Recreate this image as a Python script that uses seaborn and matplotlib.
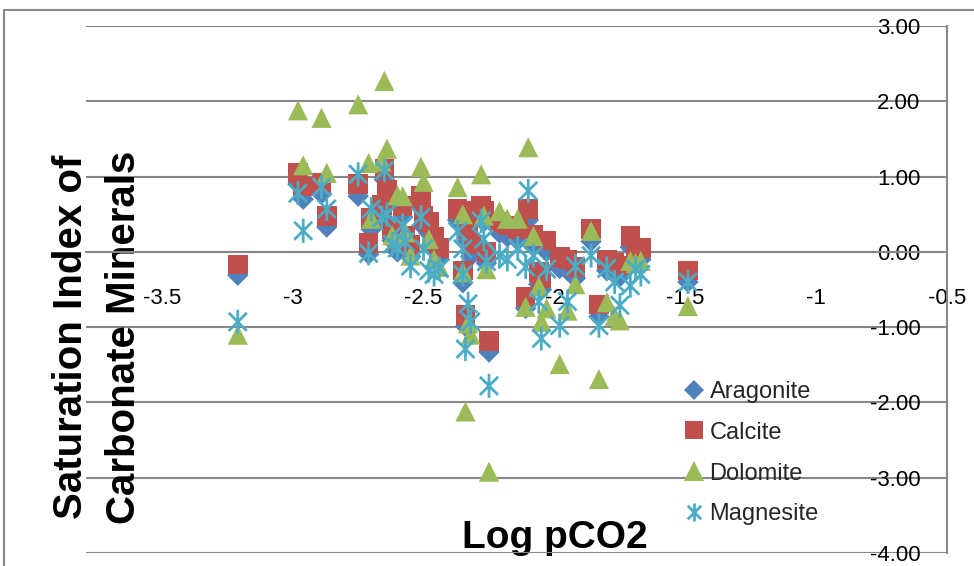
import pandas as pd
import matplotlib
matplotlib.use('Agg')
from matplotlib import pyplot as plt
from matplotlib.path import Path
from matplotlib.lines import Line2D
from matplotlib.patches import Rectangle
import seaborn as sns

sns.set_theme(style='white')
plt.rcParams['font.family'] = ['Liberation Sans', 'DejaVu Sans']

# values
log_pco2 = [-3.21, -2.98, -2.96, -2.89, -2.87, -2.75, -2.70, -2.71, -2.65, -2.64,
            -2.66, -2.62, -2.60, -2.58, -2.57, -2.55, -2.51, -2.50, -2.48, -2.46,
            -2.44, -2.37, -2.35, -2.35, -2.34, -2.33, -2.32, -2.28, -2.27, -2.25,
            -2.26, -2.21, -2.18, -2.14, -2.11, -2.10, -2.08, -2.06, -2.05, -2.03,
            -1.98, -1.95, -1.92, -1.86, -1.83, -1.80, -1.77, -1.75, -1.71, -1.69,
            -1.67, -1.49]
si_aragonite = [-0.31, 0.90, 0.70, 0.77, 0.33, 0.74, 0.30, -0.03, 0.96, 0.66,
                0.47, 0.15, 0.00, 0.46, 0.06, -0.06, 0.59, 0.33, 0.25, 0.05,
                -0.10, 0.42, 0.40, -0.41, -0.99, 0.14, -0.06, 0.46, 0.40, -1.33,
                -0.15, 0.25, 0.20, 0.15, -0.75, 0.42, 0.07, -0.43, -0.50, 0.00,
                -0.22, -0.25, -0.35, 0.14, -0.86, -0.25, -0.30, -0.33, 0.06, -0.10,
                -0.10, -0.40]
si_calcite = [-0.17, 1.05, 0.87, 0.92, 0.48, 0.90, 0.45, 0.12, 1.10, 0.82,
              0.62, 0.30, 0.15, 0.61, 0.21, 0.09, 0.74, 0.48, 0.40, 0.20,
              0.05, 0.57, 0.55, -0.25, -0.84, 0.30, 0.10, 0.61, 0.55, -1.18,
              0.00, 0.40, 0.35, 0.30, -0.60, 0.57, 0.22, -0.27, -0.35, 0.15,
              -0.07, -0.10, -0.20, 0.30, -0.70, -0.10, -0.15, -0.18, 0.21, 0.05,
              0.05, -0.25]
si_dolomite = [-1.10, 1.88, 1.15, 1.78, 1.05, 1.96, 0.44, 1.18, 2.27, 1.37,
               1.20, 0.22, 0.75, 0.74, 0.26, -0.05, 1.13, 0.93, 0.17, -0.10,
               -0.20, 0.86, 0.50, -0.27, -2.12, -0.95, -1.10, 1.03, 0.48, -2.92,
               -0.23, 0.54, 0.44, 0.44, -0.73, 1.39, 0.21, -0.46, -0.93, -0.75,
               -1.49, -0.78, -0.43, 0.28, -1.69, -0.67, -0.85, -0.91, -0.12, -0.15,
               -0.12, -0.72]
si_magnesite = [-0.93, 0.78, 0.28, 0.86, 0.57, 1.03, 0.57, -0.02, 1.08, 0.50,
                0.45, 0.10, 0.05, 0.35, 0.13, -0.19, 0.46, 0.04, -0.25, -0.30,
                -0.22, 0.27, 0.04, -0.30, -1.29, -0.69, -0.93, 0.41, 0.17, -1.78,
                -0.13, -0.05, -0.10, 0.05, -0.20, 0.81, -0.05, -0.66, -1.15, -0.23,
                -0.98, -0.66, -0.19, -0.05, -0.98, -0.22, -0.40, -0.71, -0.45, -0.23,
                -0.30, -0.40]

minerals = ['Aragonite', 'Calcite', 'Dolomite', 'Magnesite']
x_ticks = [-3.5, -3, -2.5, -2, -1.5, -1, -0.5]
y_ticks = [3, 2, 1, 0, -1, -2, -3, -4]

df = pd.DataFrame({
    'Log pCO2': log_pco2 * 4,
    'SI': si_aragonite + si_calcite + si_dolomite + si_magnesite,
    'Mineral': [m for m in minerals for _ in log_pco2],
})

# excel-like asterisk: vertical bar plus an X
star = Path([(0, -1), (0, 1), (-0.75, -0.75), (0.75, 0.75), (-0.75, 0.75), (0.75, -0.75)],
            [Path.MOVETO, Path.LINETO] * 3)

colors = {'Aragonite': '#4F81BD', 'Calcite': '#C0504D',
          'Dolomite': '#9BBB59', 'Magnesite': '#4BACC6'}
markers = {'Aragonite': 'D', 'Calcite': 's', 'Dolomite': '^', 'Magnesite': star}
sizes = {'Aragonite': 120, 'Calcite': 200, 'Dolomite': 210, 'Magnesite': 300}

grid_col = '#878787'

fig = plt.figure(figsize=(9.74, 5.66), dpi=100)
ax = fig.add_axes([86 / 974, 1 - 553 / 566, (947 - 86) / 974, (553 - 26) / 566])

for m in minerals:
    sub = df[df['Mineral'] == m]
    if m == 'Magnesite':
        sns.scatterplot(data=sub, x='Log pCO2', y='SI', ax=ax, marker=markers[m],
                        s=sizes[m], color=colors[m], facecolor='none',
                        edgecolor=colors[m], linewidth=2.0, zorder=3 + minerals.index(m))
    else:
        sns.scatterplot(data=sub, x='Log pCO2', y='SI', ax=ax, marker=markers[m],
                        s=sizes[m], color=colors[m], edgecolor='none', linewidth=0,
                        zorder=3 + minerals.index(m))

ax.set_xlim(-3.79, -0.5)
ax.set_ylim(-4, 3)
ax.set_xticks(x_ticks)
ax.set_xticklabels([f'{t:g}' for t in x_ticks])
ax.set_yticks(y_ticks)
ax.set_yticklabels([f'{t:.2f}' for t in y_ticks])

ax.yaxis.grid(True, color=grid_col, lw=1.5, zorder=0)
ax.xaxis.grid(False)
for side in ['left', 'top']:
    ax.spines[side].set_visible(False)
ax.spines['right'].set_color(grid_col)
ax.spines['right'].set_linewidth(1.5)
ax.spines['bottom'].set_position(('data', 0))
ax.spines['bottom'].set_color(grid_col)
ax.spines['bottom'].set_linewidth(1.5)

ax.tick_params(axis='x', length=0, pad=26, labelsize=16, colors='black')
ax.tick_params(axis='y', left=False, labelleft=False, right=True, labelright=True,
               length=0, pad=-19, labelsize=16, colors='black')
for lab in ax.get_yticklabels():
    lab.set_horizontalalignment('right')

ax.set_xlabel('Log pCO2', fontsize=28, fontweight='bold', color='black')
ax.xaxis.set_label_coords(0.545, 0.028)
ax.xaxis.label.set_va('center')
ax.set_ylabel('Saturation Index of\nCarbonate Minerals', fontsize=29,
              fontweight='bold', color='black', linespacing=1.5)
ax.yaxis.set_label_position('left')
ax.yaxis.set_label_coords(0.013, 0.41)
ax.yaxis.label.set_va('center')

handles = []
for m in minerals:
    if m == 'Magnesite':
        h = Line2D([], [], ls='none', marker=markers[m], markersize=13,
                   markerfacecolor='none', markeredgecolor=colors[m], markeredgewidth=2)
    else:
        h = Line2D([], [], ls='none', marker=markers[m],
                   markersize={'Aragonite': 10, 'Calcite': 13, 'Dolomite': 14}[m],
                   color=colors[m], markeredgewidth=0)
    handles.append(h)
leg = ax.legend(handles, minerals, loc='upper left', bbox_to_anchor=(673 / 974, 1 - 369 / 566),
                bbox_transform=fig.transFigure, frameon=False, fontsize=17,
                handlelength=0.8, handletextpad=0.25, labelspacing=0.8, borderpad=0)

fig.add_artist(Rectangle((4 / 974, -0.05), 1.2, 1 - 10 / 566 + 0.05,
                         transform=fig.transFigure, fill=False, ec=grid_col, lw=1.5))

fig.savefig('out.png', dpi=100)
